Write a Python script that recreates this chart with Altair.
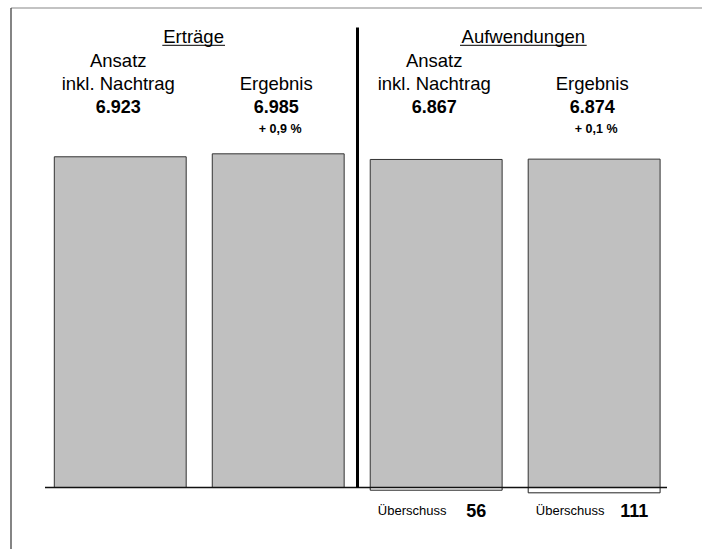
import altair as alt
import pandas as pd

# ---- data ----
keys = ["E_Ansatz", "E_Ergebnis", "A_Ansatz", "A_Ergebnis"]
line1 = ["Ansatz", "", "Ansatz", ""]
line2 = ["inkl. Nachtrag", "Ergebnis", "inkl. Nachtrag", "Ergebnis"]
values = [6923, 6985, 6867, 6874]
changes = ["", "+ 0,9 %", "", "+ 0,1 %"]
surplus = [None, None, 56, 111]
group_titles = ["Erträge", "Aufwendungen"]

df = pd.DataFrame({
    "key": keys,
    "line1": line1,
    "line2": line2,
    "value": values,
    "change": changes,
    "surplus": surplus,
})
df["value_label"] = [f"{v:,}".replace(",", ".") for v in values]

FONT = "Liberation Sans"

xenc = alt.X("key:N", sort=keys, axis=None,
             scale=alt.Scale(range=[54.3, 660.1], paddingInner=0.165, paddingOuter=0))
yscale = alt.Scale(domain=[-1287, 10205], nice=False, zero=False)

base = alt.Chart(df)

bars = base.mark_bar(fill="#c0c0c0", stroke="#333333", strokeWidth=1).encode(
    x=xenc,
    y=alt.Y("value:Q", scale=yscale, axis=None),
    y2=alt.datum(0),
)

surplus_boxes = base.transform_filter("datum.surplus != null").transform_calculate(
    neg="-datum.surplus"
).mark_bar(fill="white", stroke="#222222", strokeWidth=1).encode(
    x=xenc,
    y=alt.Y("neg:Q", scale=yscale, axis=None),
    y2=alt.datum(0),
)

one = pd.DataFrame({"d": [0]})

baseline = alt.Chart(one).mark_rule(color="#111111", strokeWidth=1.5).encode(
    x=alt.value(45), x2=alt.value(667),
    y=alt.Y("d:Q", scale=yscale, axis=None),
)

divider = alt.Chart(one).mark_rule(color="black", strokeWidth=3).encode(
    x=alt.value(357.5), y=alt.value(27.5), y2=alt.value(487.5),
)

frame_top = alt.Chart(one).mark_rule(color="#888888", strokeWidth=1.2).encode(
    x=alt.value(11), x2=alt.value(702), y=alt.value(8),
)
frame_left = alt.Chart(one).mark_rule(color="#333333", strokeWidth=1.2).encode(
    x=alt.value(11), y=alt.value(8), y2=alt.value(549),
)

txt1 = base.mark_text(font=FONT, fontSize=18.5, color="black", baseline="alphabetic", dx=-2).encode(
    x=xenc, y=alt.value(66.7), text="line1:N")
txt2 = base.mark_text(font=FONT, fontSize=18.5, color="black", baseline="alphabetic", dx=-2).encode(
    x=xenc, y=alt.value(89.5), text="line2:N")
txt3 = base.mark_text(font=FONT, fontSize=18, fontWeight="bold", color="black",
                      baseline="alphabetic", dx=-2).encode(
    x=xenc, y=alt.value(113), text="value_label:N")
txt4 = base.mark_text(font=FONT, fontSize=12.5, fontWeight="bold", color="black",
                      baseline="alphabetic", dx=2).encode(
    x=xenc, y=alt.value(133.3), text="change:N")

sdf = base.transform_filter("datum.surplus != null").transform_calculate(
    slabel="format(datum.surplus, 'd')"
)
txt_s1 = sdf.transform_calculate(lbl="'Überschuss'").mark_text(
    font=FONT, fontSize=13, color="black", baseline="alphabetic", dx=-24).encode(
    x=xenc, y=alt.value(515), text="lbl:N")
txt_s2 = sdf.mark_text(font=FONT, fontSize=18, fontWeight="bold", color="black",
                       baseline="alphabetic", dx=40).encode(
    x=xenc, y=alt.value(516.5), text="slabel:N")

title_layers = []
title_pos = [(193.6, 162.3, 225.0), (523.3, 460.0, 586.7)]
for t, (cx, x1, x2) in zip(group_titles, title_pos):
    tdf = pd.DataFrame({"t": [t]})
    title_layers.append(
        alt.Chart(tdf).mark_text(font=FONT, fontSize=18.5, color="black", baseline="alphabetic").encode(
            x=alt.value(cx), y=alt.value(43.3), text="t:N")
    )
    title_layers.append(
        alt.Chart(tdf).mark_rule(color="black", strokeWidth=1).encode(
            x=alt.value(x1), x2=alt.value(x2), y=alt.value(45.3))
    )

chart = alt.layer(
    frame_top, frame_left, bars, surplus_boxes, baseline, divider,
    txt1, txt2, txt3, txt4, txt_s1, txt_s2, *title_layers
).resolve_scale(x="shared", y="shared").properties(
    width=702, height=549, autosize=alt.AutoSizeParams(type="none"), padding=0,
    background="white",
).configure_view(stroke=None)

chart.save("out.html", embed_options={"renderer": "svg", "actions": False})
